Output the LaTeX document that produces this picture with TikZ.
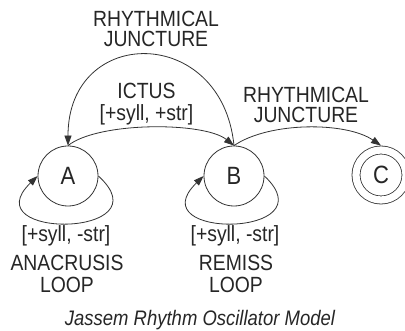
\documentclass[tikz,border=0pt]{standalone}
\usepackage{fontspec}
\setmainfont{Liberation Sans}[FakeStretch=0.88]
\usetikzlibrary{arrows.meta,calc}
\begin{document}
\begin{tikzpicture}[x=1pt,y=1pt,
  state/.style={circle,draw=black!80,line width=0.8pt,minimum size=60pt,inner sep=0pt,
    font=\fontsize{25}{25}\selectfont,text=black!85},
  lbl/.style={align=center,font=\fontsize{22}{20}\selectfont,text=black!85,inner sep=0pt},
  lblwide/.style={lbl,font=\fontsize{22}{22}\selectfont},
  edge/.style={draw=black!80,line width=0.8pt,-{Triangle[length=10pt,width=7pt]}}
]
\useasboundingbox[fill=white] (0,0) rectangle (405,331);
\node[state] (A) at (68,155) {A};
\node[state] (B) at (234,155) {B};
\node[state,double,double distance=7.2pt,minimum size=50pt,outer sep=4.4pt] (C) at (381,156) {C};

\node[lbl,anchor=north] (t1) at (156,320) {RHYTHMICAL\\JUNCTURE};
\node[lbl,anchor=north,font=\fontsize{22}{22}\selectfont] (t2) at (146.5,248) {ICTUS\\{[+syll, +str]}};
\node[lbl,anchor=north] (t3) at (306,244) {RHYTHMICAL\\JUNCTURE};
\node[lbl,anchor=north] (la) at (66,106) {[+syll, -str]};
\node[lblwide,anchor=north] (la2) at (67,76) {ANACRUSIS\\LOOP};
\node[lbl,anchor=north] (lb) at (235,106) {[+syll, -str]};
\node[lblwide,anchor=north] (lb2) at (236,76) {REMISS\\LOOP};
\node[lbl,anchor=base,font=\fontsize{21}{21}\selectfont\itshape] (cap) at (200,5.5) {Jassem Rhythm Oscillator Model};

\draw[edge] (B.north) .. controls ($(B.north)+(-12,121)$) and ($(A.north)+(0,121)$) .. (A.north);
\draw[edge] (A.north) .. controls ($(A.north)+(30,24)$) and ($(B.north)+(-30,24)$) .. (B.north);
\draw[edge] (B.north) .. controls ($(B.north)+(35,24)$) and ($(C.north)+(-35,24)$) .. (C.north);
\draw[edge] (A.east) .. controls ($(A.east)+(68,-62)$) and ($(A.west)+(-66,-64)$) .. (A.west);
\draw[edge] (B.east) .. controls ($(B.east)+(66,-62)$) and ($(B.west)+(-66,-64)$) .. (B.west);
\end{tikzpicture}
\end{document}
